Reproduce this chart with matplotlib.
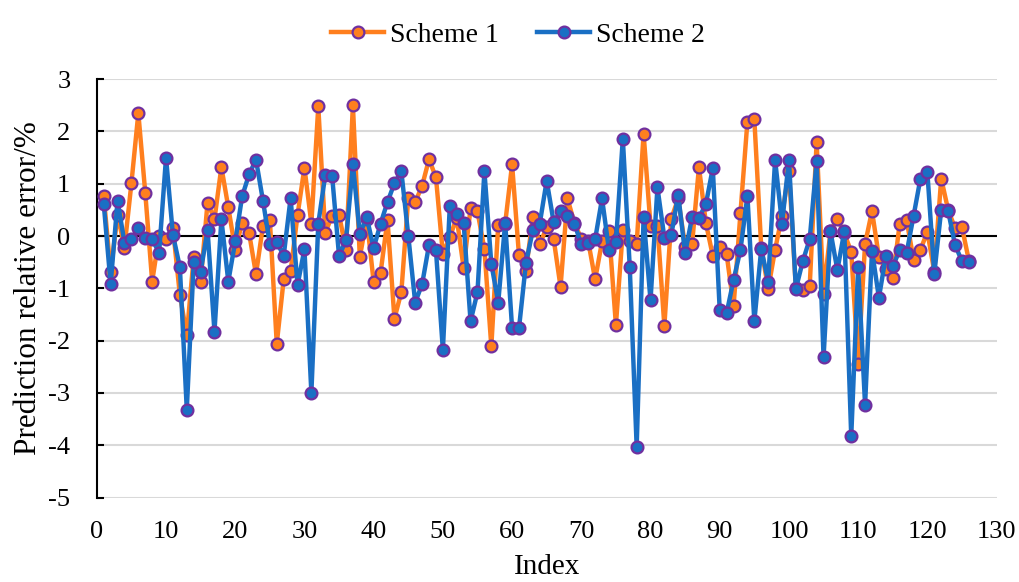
import matplotlib
matplotlib.use("Agg")
import matplotlib.pyplot as plt
import numpy as np

# sample index and relative prediction errors (%) for the two schemes
index = np.arange(1, 127)

scheme1 = [
    0.76, -0.69, 0.41, -0.22, 1.01, 2.35, 0.83, -0.87, 0.00, -0.05,
    0.15, -1.12, -1.90, -0.40, -0.87, 0.64, 0.32, 1.32, 0.55, -0.26,
    0.25, 0.06, -0.73, 0.19, 0.31, -2.06, -0.83, -0.67, 0.40, 1.31,
    0.24, 2.48, 0.06, 0.39, 0.41, -0.27, 2.50, -0.40, 0.33, -0.88,
    -0.70, 0.31, -1.58, -1.07, 0.73, 0.65, 0.96, 1.47, 1.12, -0.34,
    -0.02, 0.35, -0.61, 0.53, 0.47, -0.25, -2.11, 0.22, 0.24, 1.37,
    -0.37, -0.66, 0.36, -0.16, 0.17, -0.05, -0.97, 0.72, 0.25, -0.05,
    -0.10, -0.83, -0.10, 0.10, -1.70, 0.11, -0.10, -0.15, 1.96, 0.20,
    0.20, -1.72, 0.33, 0.72, -0.20, -0.16, 1.32, 0.25, -0.38, -0.20,
    -0.35, -1.34, 0.45, 2.19, 2.23, -0.22, -1.01, -0.26, 0.39, 1.25,
    -0.99, -1.03, -0.96, 1.80, -1.10, 0.09, 0.33, 0.05, -0.30, -2.45,
    -0.15, 0.48, -0.40, -0.63, -0.81, 0.23, 0.31, -0.45, -0.26, 0.08,
    -0.68, 1.10, 0.50, 0.15, 0.17, -0.47,
]

scheme2 = [
    0.62, -0.92, 0.68, -0.13, -0.06, 0.15, -0.04, -0.06, -0.32, 1.50,
    0.02, -0.59, -3.32, -0.50, -0.69, 0.12, -1.83, 0.32, -0.87, -0.10,
    0.76, 1.18, 1.46, 0.68, -0.15, -0.11, -0.38, 0.73, -0.94, -0.25,
    -3.00, 0.24, 1.16, 1.15, -0.38, -0.08, 1.37, 0.04, 0.36, -0.23,
    0.24, 0.65, 1.01, 1.24, 0.01, -1.27, -0.92, -0.17, -0.27, -2.18,
    0.57, 0.43, 0.25, -1.63, -1.07, 1.24, -0.53, -1.27, 0.25, -1.76,
    -1.76, -0.52, 0.11, 0.24, 1.06, 0.27, 0.47, 0.38, 0.24, -0.16,
    -0.14, -0.06, 0.72, -0.27, -0.12, 1.86, -0.59, -4.03, 0.36, -1.23,
    0.93, -0.03, 0.02, 0.79, -0.33, 0.36, 0.35, 0.61, 1.30, -1.42,
    -1.47, -0.84, -0.26, 0.77, -1.63, -0.24, -0.87, 1.46, 0.24, 1.46,
    -1.01, -0.48, -0.06, 1.43, -2.32, 0.09, -0.65, 0.09, -3.83, -0.59,
    -3.23, -0.28, -1.18, -0.38, -0.58, -0.27, -0.32, 0.38, 1.10, 1.22,
    -0.72, 0.50, 0.48, -0.17, -0.48, -0.50,
]

plt.rcParams['font.family'] = ['Liberation Serif', 'DejaVu Serif']
plt.rcParams['axes.unicode_minus'] = False

fig = plt.figure(figsize=(10.19, 5.82), dpi=100)
ax = fig.add_axes([0.095, 0.145, 0.883, 0.719])

marker_style = dict(marker='o', markersize=8.5, markeredgecolor='#7030A0',
                    markeredgewidth=1.6)
ax.plot(index, scheme1, color='#FF7F1E', linewidth=3.2, label='Scheme 1',
        markerfacecolor='#FF7F1E', zorder=3, **marker_style)
ax.plot(index, scheme2, color='#1A6FC4', linewidth=3.2, label='Scheme 2',
        markerfacecolor='#1A6FC4', zorder=4, **marker_style)

# zero line acts as the category axis
ax.axhline(0, color='black', linewidth=1.5, zorder=2)

ax.set_xlim(0, 130)
ax.set_ylim(-5, 3)
ax.set_xticks(np.arange(0, 131, 10))
ax.set_yticks(np.arange(-5, 4, 1))
ax.yaxis.grid(True, color='#D9D9D9', linewidth=1.5, zorder=0)
ax.set_axisbelow(True)

for side in ['top', 'right', 'bottom']:
    ax.spines[side].set_visible(False)
ax.spines['left'].set_linewidth(1.5)
ax.tick_params(axis='y', direction='in', length=5, width=1.5, labelsize=19, pad=19)
ax.tick_params(axis='x', length=0, labelsize=19, pad=17)

ax.set_xlabel('Index', fontsize=21, labelpad=8)
ax.set_ylabel('Prediction relative error/%', fontsize=22.5, labelpad=4)

ax.legend(loc='center', bbox_to_anchor=(0.468, 1.105), ncol=2,
          frameon=False, fontsize=20, handlelength=1.9, columnspacing=1.4,
          handletextpad=0.2)

fig.savefig('out.png', dpi=100)
